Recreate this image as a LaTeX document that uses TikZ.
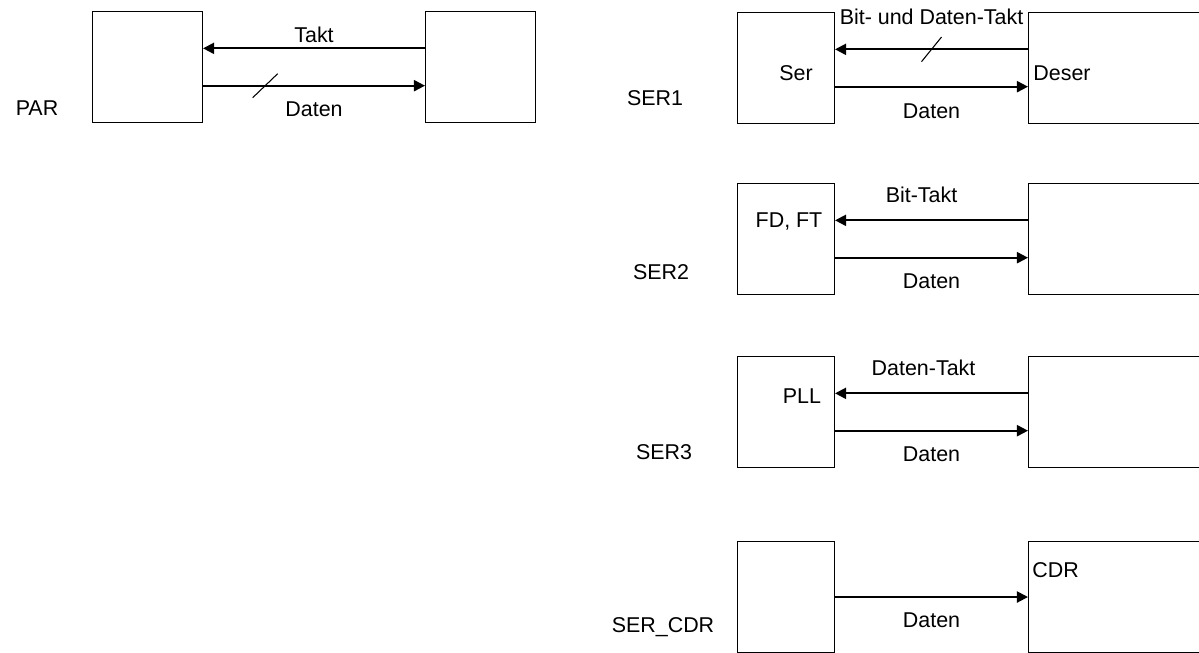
\documentclass[tikz,border=0pt]{standalone}
\usepackage{fontspec}
\setmainfont{Liberation Sans}
\usetikzlibrary{arrows.meta, positioning, calc}

\begin{document}
\begin{tikzpicture}[x=0.02cm, y=-0.02cm, >={Triangle[length=6.3pt, width=6.3pt]},
  blk/.style={draw, line width=0.6pt, inner sep=0pt, minimum height=2.22cm, anchor=north west},
  sig/.style={->, line width=1.1pt},
  lbl/.style={font=\fontsize{12.2}{14}\selectfont, inner sep=0pt, text height=8.7pt, text depth=0pt}]
  \useasboundingbox (0,0) rectangle (1199,652);
  % Parallel link
  \node[lbl] (par) at (37,108) {PAR};
  \node[blk, minimum width=2.2cm] (parL) at (92,11) {};
  \node[blk, minimum width=2.2cm] (parR) at (425,11) {};
  \draw[sig] ($(parR.north west)!1/3!(parR.south west)$) -- ($(parL.north east)!1/3!(parL.south east)$)
    node[lbl, midway, yshift=0.26cm] (partakt) {Takt};
  \draw[sig] ($(parL.north east)!2/3!(parL.south east)$) -- ($(parR.north west)!2/3!(parR.south west)$)
    coordinate[pos=0.28] (parbus)
    node[lbl, midway, yshift=-0.46cm] (pardaten) {Daten};
  \draw[line width=0.6pt] ($(parbus)+(-12.5,12)$) -- ($(parbus)+(12.5,-12)$);
  % SER1
  \node[lbl] (ser1) at (655,97.5) {SER1};
  \node[blk, minimum width=1.94cm] (s1L) at (737,12) {};
  \node[blk, minimum width=3.6cm] (s1R) at (1028,12) {};
  \node[lbl] (ser) at (796,73) {Ser};
  \node[lbl] (deser) at (1062,73) {Deser};
  \draw[sig] ($(s1R.north west)!1/3!(s1R.south west)$) -- ($(s1L.north east)!1/3!(s1L.south east)$)
    coordinate[midway] (s1bus)
    node[lbl, midway, yshift=0.65cm] (s1takt) {Bit- und Daten-Takt};
  \draw[line width=0.6pt] ($(s1bus)+(-10,12.3)$) -- ($(s1bus)+(10,-12.3)$);
  \draw[sig] ($(s1L.north east)!2/3!(s1L.south east)$) -- ($(s1R.north west)!2/3!(s1R.south west)$)
    node[lbl, midway, yshift=-0.48cm] (s1daten) {Daten};
  % SER2
  \node[lbl] (ser2) at (661,271.7) {SER2};
  \node[blk, minimum width=1.94cm] (s2L) at (737,183) {};
  \node[blk, minimum width=3.6cm] (s2R) at (1028,183) {};
  \node[lbl] (fdft) at (789,220) {FD, FT};
  \draw[sig] ($(s2R.north west)!1/3!(s2R.south west)$) -- ($(s2L.north east)!1/3!(s2L.south east)$)
    node[lbl, midway, xshift=-0.2cm, yshift=0.51cm] (s2takt) {Bit-Takt};
  \draw[sig] ($(s2L.north east)!2/3!(s2L.south east)$) -- ($(s2R.north west)!2/3!(s2R.south west)$)
    node[lbl, midway, yshift=-0.46cm] (s2daten) {Daten};
  % SER3
  \node[lbl] (ser3) at (664,451.7) {SER3};
  \node[blk, minimum width=1.94cm] (s3L) at (737,356) {};
  \node[blk, minimum width=3.6cm] (s3R) at (1028,356) {};
  \node[lbl] (pll) at (802,395.7) {PLL};
  \draw[sig] ($(s3R.north west)!1/3!(s3R.south west)$) -- ($(s3L.north east)!1/3!(s3L.south east)$)
    node[lbl, midway, xshift=-0.16cm, yshift=0.51cm] (s3takt) {Daten-Takt};
  \draw[sig] ($(s3L.north east)!2/3!(s3L.south east)$) -- ($(s3R.north west)!2/3!(s3R.south west)$)
    node[lbl, midway, yshift=-0.46cm] (s3daten) {Daten};
  % SER_CDR
  \node[lbl] (sercdr) at (663,625) {SER\_CDR};
  \node[blk, minimum width=1.94cm] (s4L) at (737,541) {};
  \node[blk, minimum width=3.6cm] (s4R) at (1028,541) {};
  \node[lbl] (cdr) at (1055.5,569.5) {CDR};
  \draw[sig] (s4L.east) -- (s4R.west)
    node[lbl, midway, yshift=-0.46cm] (s4daten) {Daten};
\end{tikzpicture}
\end{document}
